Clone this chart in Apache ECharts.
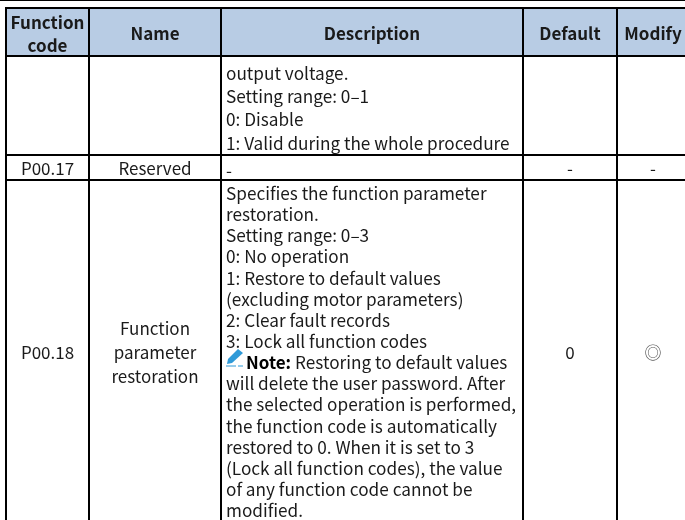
<!DOCTYPE html>
<html>
<head>
<meta charset="utf-8">
<style>html,body{margin:0;padding:0;background:#fff}#main{width:685px;height:520px}</style>
<script src="https://cdn.jsdelivr.net/npm/echarts@6/dist/echarts.min.js"></script>
</head>
<body>
<div id="main"></div>
<script>
var headers = ['Function\ncode', 'Name', 'Description', 'Default', 'Modify'];
var codes = ['', 'P00.17', 'P00.18'];
var names = ['', 'Reserved', 'Function\nparameter\nrestoration'];
var descriptions = [
  ['output voltage.', 'Setting range: 0\u20131', '0: Disable', '1: Valid during the whole procedure'],
  ['-'],
  ['Specifies the function parameter', 'restoration.', 'Setting range: 0\u20133', '0: No operation',
   '1: Restore to default values', '(excluding motor parameters)', '2: Clear fault records', '3: Lock all function codes',
   '', 'will delete the user password. After', 'the selected operation is performed,',
   'the function code is automatically', 'restored to 0. When it is set to 3', '(Lock all function codes), the value',
   'of any function code cannot be', 'modified.']
];
var noteLabel = 'Note:';
var noteText = 'Restoring to default values';
var defaults = ['', '-', '0'];
var modifies = ['', '-', '\u25ce'];

// layout, in pixels of the page
var colEdges = [6, 89, 221, 523, 617, 689];
var rowEdges = [8, 56, 155, 180, 523];
var descTop = [73.4, 170, 193.4];
var descStep = [23.2, 0, 21.15];
var font = '"Noto Sans CJK SC", "Noto Sans", sans-serif';
var ink = '#1a1a1a';
var blue = '#2f9ad8';

var cells = [];
headers.forEach(function (t, c) { cells.push([c, 0, t, 'head']); });
for (var r = 0; r < 3; r++) {
  cells.push([0, r + 1, codes[r], 'mid']);
  cells.push([1, r + 1, names[r], 'mid']);
  cells.push([2, r + 1, descriptions[r], 'left']);
  cells.push([3, r + 1, defaults[r], 'mid']);
  cells.push([4, r + 1, modifies[r], 'mid']);
}

function renderCell(params, api) {
  var c = api.value(0), r = api.value(1);
  var cell = cells[params.dataIndex];
  var p0 = api.coord([colEdges[c], rowEdges[r]]);
  var p1 = api.coord([colEdges[c + 1], rowEdges[r + 1]]);
  var head = cell[3] === 'head';
  var kids = [{
    type: 'rect',
    shape: { x: p0[0], y: p0[1], width: p1[0] - p0[0], height: p1[1] - p0[1] },
    style: { fill: head ? '#b8cce4' : '#fff', stroke: '#000', lineWidth: 2 }
  }];
  if (cell[3] === 'left') {
    cell[2].forEach(function (line, i) {
      kids.push({
        type: 'text',
        style: {
          x: p0[0] + 5, y: descTop[r - 1] + i * descStep[r - 1], text: line, fill: ink,
          font: '17.2px ' + font, align: 'left', verticalAlign: 'middle'
        }
      });
    });
  } else {
    kids.push({
      type: 'text',
      style: {
        x: (p0[0] + p1[0]) / 2, y: (p0[1] + p1[1]) / 2 + (head ? 2 : 1), text: cell[2],
        fill: cell[2] === '\u25ce' ? '#555' : ink,
        font: (head ? 'bold 17px ' : '17px ') + font,
        lineHeight: head ? 23 : 24,
        align: 'center', verticalAlign: 'middle'
      }
    });
  }
  return { type: 'group', children: kids };
}

// pencil icon with the bold word, on the ninth line of the last description
function renderNote(params, api) {
  var o = api.coord([226, 349]);
  var x = o[0], y = o[1];
  return {
    type: 'group',
    children: [
      { type: 'polygon', shape: { points: [[x + 1, y + 15], [x + 2, y + 10], [x + 12, y], [x + 17, y + 4], [x + 6, y + 14]] }, style: { fill: blue } },
      { type: 'line', shape: { x1: x, y1: y + 17, x2: x + 17, y2: y + 17 }, style: { stroke: blue, lineWidth: 1, lineDash: [10, 2] } },
      { type: 'text', style: { x: x + 20, y: y + 13.6, text: noteLabel, fill: '#000', font: 'bold 17px ' + font, verticalAlign: 'middle' } },
      { type: 'text', style: { x: x + 69, y: y + 13.6, text: noteText, fill: ink, font: '17.2px ' + font, verticalAlign: 'middle' } }
    ]
  };
}

var myChart = echarts.init(document.getElementById('main'));
myChart.setOption({
  animation: false,
  backgroundColor: '#fff',
  grid: { left: 0, right: 0, top: 0, bottom: 0 },
  xAxis: { type: 'value', min: 0, max: 685, show: false },
  yAxis: { type: 'value', min: 0, max: 520, inverse: true, show: false },
  series: [
    { type: 'custom', coordinateSystem: 'cartesian2d', clip: true, renderItem: renderCell, data: cells.map(function (d) { return [d[0], d[1]]; }), z: 2 },
    { type: 'custom', coordinateSystem: 'cartesian2d', clip: true, renderItem: renderNote, data: [[0, 0]], z: 3 },
    { type: 'line', data: [[0, 0], [685, 0]], symbol: 'none', lineStyle: { color: '#000', width: 2 }, z: 4, clip: false }
  ]
});
</script>
</body>
</html>
